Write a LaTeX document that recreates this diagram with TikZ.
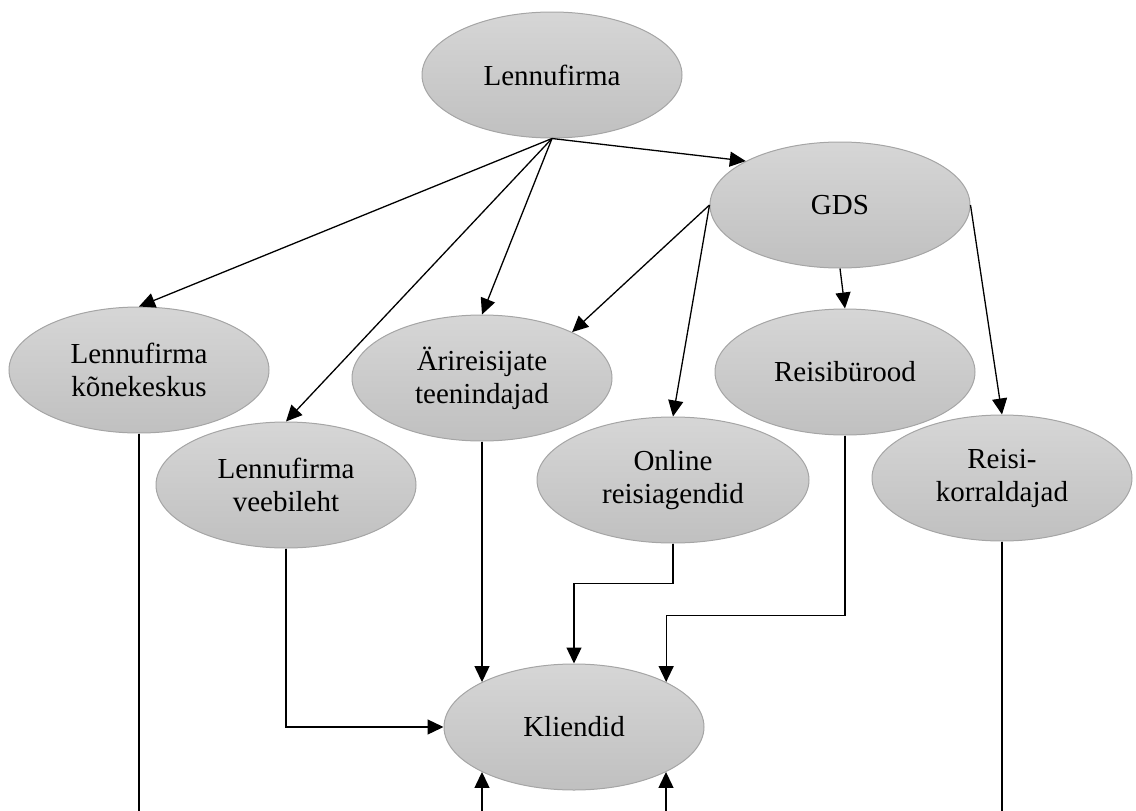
\documentclass[tikz,border=0pt]{standalone}
\usepackage{fontspec}
\setmainfont{Liberation Serif}
\usetikzlibrary{arrows.meta,shapes.geometric}
\definecolor{elltop}{RGB}{214,214,214}
\definecolor{ellbot}{RGB}{192,192,192}
\definecolor{ellrim}{RGB}{165,165,165}
\begin{document}
\begin{tikzpicture}[>={Triangle[length=16pt,width=15pt]},x=1pt,y=-1pt,
    unit/.style={ellipse,draw=ellrim,line width=1pt,top color=elltop,bottom color=ellbot,
      minimum width=260pt,minimum height=126pt,inner sep=0pt,align=center,
      font=\fontsize{29}{33}\selectfont},
    link/.style={->,line width=1.3pt}]
    \useasboundingbox (0,0) rectangle (1136,811);

    \node[unit] (lf) at (552,75) {Lennufirma};
    \node[unit] (gds) at (840,205) {GDS};
    \node[unit] (kk) at (139,370) {Lennufirma\\kõnekeskus};
    \node[unit] (ar) at (482,378) {Ärireisijate\\teenindajad};
    \node[unit] (rb) at (845,372) {Reisibürood};
    \node[unit] (vl) at (286,485) {Lennufirma\\veebileht};
    \node[unit,minimum width=272pt] (ol) at (673,480) {Online\\reisiagendid};
    \node[unit] (rk) at (1002,478) {Reisi-\\korraldajad};
    \node[unit] (kl) at (574,727) {Kliendid};

    % free ends at the lower edge
    \coordinate (kkb) at (kk.south |- 0,811);
    \coordinate (rkb) at (rk.south |- 0,811);
    \coordinate (up1) at (482,811);
    \coordinate (up2) at (666,811);

    \draw[link] (lf.south) -- (kk.north);
    \draw[link] (lf.south) -- (vl.north);
    \draw[link] (lf.south) -- (ar.north);
    \draw[link] (lf.south) -- (gds.155);

    \draw[link] (gds.west) -- (ar.27);
    \draw[link] (gds.west) -- (ol.north);
    \draw[link] (gds.south) -- (rb.north);
    \draw[link] (gds.east) -- (rk.north);

    \draw[line width=1.3pt] (kk.south) -- (kkb);
    \draw[line width=1.3pt] (rk.south) -- (rkb);
    \draw[link] (vl.south) |- (kl.west);
    \draw[link] (ar.south) -- (ar.south |- kl.154);
    \draw[link] (ol.south) -- ++(0,40) -| (kl.north);
    \draw[link] (rb.south) -- ++(0,180) -| (kl.26);
    \draw[link] (up1) -- (up1 |- kl.206);
    \draw[link] (up2) -- (up2 |- kl.334);
\end{tikzpicture}
\end{document}
